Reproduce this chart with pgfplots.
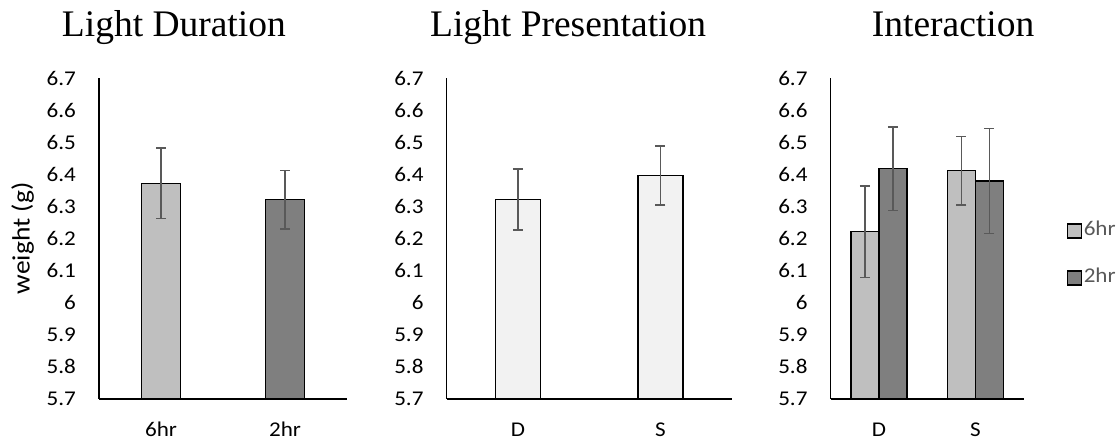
\documentclass[border=0pt]{standalone}
\usepackage{fontspec}
\setmainfont{Carlito}[FakeStretch=1.1]
\newfontfamily\titlefont{Liberation Serif}
\usepackage{pgfplots}
\pgfplotsset{compat=1.18}
\definecolor{lg}{HTML}{BFBFBF}
\definecolor{dg}{HTML}{7F7F7F}
\definecolor{vl}{HTML}{F2F2F2}
\definecolor{eb}{HTML}{595959}
\pgfplotsset{
  mystyle/.style={
    scale only axis, height=321pt,
    ymin=5.7, ymax=6.7,
    ytick={5.7,5.8,5.9,6.0,6.1,6.2,6.3,6.4,6.5,6.6,6.7},
    /pgf/number format/.cd, fixed, precision=1, assume math mode=true, /pgfplots/.cd,
    axis x line*=bottom, axis y line*=left,
    axis line style={-, line width=1.3pt, black},
    major tick length=0pt,
    tick label style={font=\fontsize{21}{25}\selectfont, text=black},
    yticklabel style={anchor=east, inner sep=0pt, xshift=-23pt},
    xticklabel style={anchor=base, inner sep=0pt, yshift=-37.7pt},
    xmin=-0.5, xmax=1.5, xtick={0,1},
    ybar,
    error bars/error bar style={color=eb, line width=1.5pt},
    error bars/error mark options={rotate=90, color=eb, mark size=5pt, line width=1.5pt},
  },
  barsty/.style={fill=#1, draw=black, line width=1.3pt,
    error bars/.cd, y dir=both, y explicit, /pgfplots/.cd},
  mylegend/.style={legend image code/.code={\draw[##1, line width=1.2pt] (0pt,-7pt) rectangle (14pt,7pt);}},
  tt/.style={title style={at={(axis description cs:#1,1.112)}, anchor=base, inner sep=0pt,
     font=\titlefont\fontsize{37.5}{40}\selectfont}},
}
\begin{document}
\begin{tikzpicture}
\path[use as bounding box] (0pt,0pt) rectangle (1120pt,444pt);
% Panel 1
\begin{axis}[mystyle, width=248pt, at={(99pt,45pt)}, anchor=south west,
  xticklabels={6hr,2hr}, bar width=39pt, bar shift=0pt,
  title={Light Duration}, tt=0.302,
  ylabel={weight (g)},
  ylabel style={at={(axis description cs:-0.308,0.5)}, anchor=center, font=\fontsize{25}{28}\selectfont}]
\addplot[barsty=lg] table[x=x, y=y, y error=e] {
x y e
0 6.372 0.110
};
\addplot[barsty=dg] table[x=x, y=y, y error=e] {
x y e
1 6.321 0.091
};
\end{axis}
% Panel 2
\begin{axis}[mystyle, width=285pt, at={(446.7pt,45pt)}, anchor=south west,
  xticklabels={D,S}, bar width=45pt, bar shift=0pt,
  title={Light Presentation}, tt=0.426]
\addplot[barsty=vl] table[x=x, y=y, y error=e] {
x y e
0 6.322 0.095
1 6.396 0.092
};
\end{axis}
% Panel 3
\begin{axis}[mystyle, width=193pt, at={(830.7pt,45pt)}, anchor=south west,
  xticklabels={D,S}, ybar=0pt, bar width=28pt,
  title={Interaction}, tt=0.634,
  legend style={draw=none, fill=none, at={(axis description cs:1.221,0.45)}, anchor=west,
    inner sep=0pt, font=\fontsize{21}{25}\selectfont, text=eb, row sep=24pt,
    nodes={inner sep=2pt, text height=14pt, text depth=5pt}},
  legend cell align=left]
\addplot[mylegend, barsty=lg] table[x=x, y=y, y error=e] {
x y e
0 6.221 0.142
1 6.411 0.107
};
\addlegendentry{6hr}
\addplot[mylegend, barsty=dg] table[x=x, y=y, y error=e] {
x y e
0 6.417 0.130
1 6.379 0.163
};
\addlegendentry{2hr}
\end{axis}
\end{tikzpicture}
\end{document}
